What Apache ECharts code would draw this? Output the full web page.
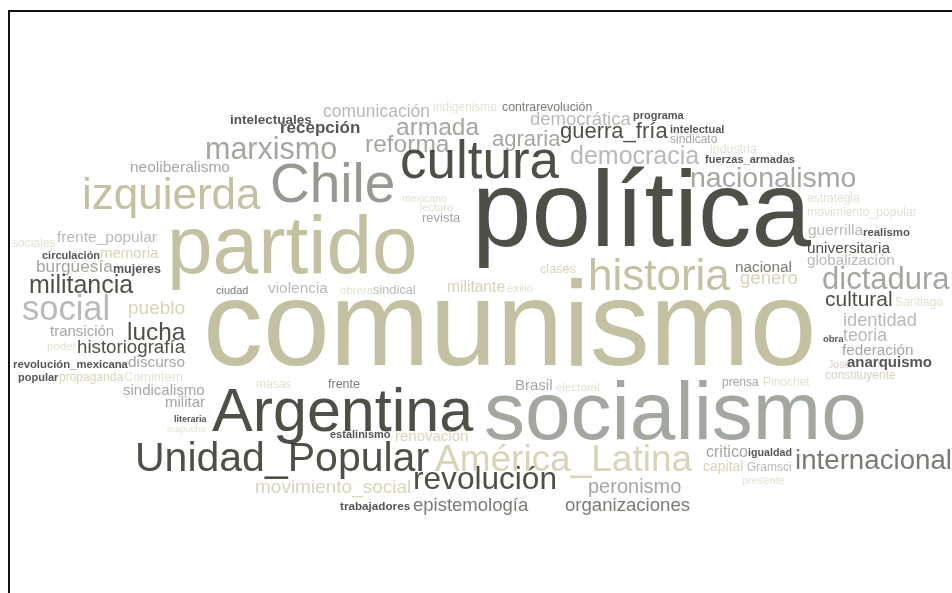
<!DOCTYPE html>
<html><head><meta charset="utf-8">
<script src="https://cdn.jsdelivr.net/npm/echarts/dist/echarts.min.js"></script>
<style>html,body{margin:0;padding:0;background:#fff}#c{width:952px;height:593px}</style>
</head><body><div id="c"></div><script>
// Word cloud: words, weights (relative frequency), tone group, and layout anchor (left, baseline)
const words = ['intelectuales','comunicación','indigenismo','contrarevolución','recepción','armada','democrática','programa','intelectual','sindicato',
'guerra_fría','agraria','reforma','marxismo','industria','fuerzas_armadas','democracia','neoliberalismo','Chile','cultura',
'izquierda','nacionalismo','política','partido','mexicano','lectura','revista','estrategia','movimiento_popular','guerrilla',
'realismo','universitaria','globalización','nacional','genero','historia','clases','dictadura','cultural','Santiago',
'identidad','obra','teoria','federación','José','anarquismo','constituyente','prensa','Pinochet','socialismo',
'critico','igualdad','internacional','capital','Gramsci','presente','peronismo','organizaciones','revolución','epistemología',
'trabajadores','movimiento_social','Unidad_Popular','América_Latina','Argentina','renovación','estalinismo','Brasil','electoral','masas',
'frente','sindicalismo','militar','literaria','mapuche','sociales','frente_popular','circulación','memoria','burguesía',
'mujeres','militancia','social','pueblo','transición','lucha','poder','historiografía','revolución_mexicana','discurso',
'popular','propaganda','Comintern','comunismo','ciudad','violencia','obrera','sindical','militante','exilio'];
const weights = [13.5,17.5,12,12.3,17,24.5,18.5,11,11,12,
22,22,24.5,30.5,12.4,11,25,15.5,55,53,
44,28.5,107,82,10.5,11,13,12,12.2,15.5,
11.4,15.4,15.2,15.3,18.6,44,12.7,31,21,12.2,
18.2,9.5,17.6,15.3,10.5,15,12,12,12,82,
16,10.7,27.7,14,12,11,20,18.6,31.6,18.5,
11.7,19,41,37,61,15,11,15,11.6,12,
12.5,15,15,9,9.5,12,15.5,11,15,17.3,
12.5,25,34.5,19,15,24.4,11.5,18.7,11.3,15.3,
11,12,12.8,120,11,15.4,11.5,12.8,15.6,11.5];
const tones = [6,3,5,7,6,2,3,6,6,2,
0,2,2,2,5,6,3,2,8,0,
1,2,0,1,5,5,2,5,5,3,
6,0,3,7,4,1,4,2,0,5,
3,6,3,2,4,6,4,2,5,2,
2,6,7,4,3,5,2,7,0,7,
6,4,0,4,0,4,6,2,5,5,
7,2,2,6,5,5,3,6,4,2,
6,0,3,4,2,0,5,0,6,2,
6,4,5,1,7,3,5,3,4,5];
const layoutX = [230,323,433,502,280,396,530,633,670,670,
560,492,365,205,710,705,570,130,270,400,
82,690,472,167,402,420,422,807,807,808,
863,807,807,735,740,588,540,822,825,895,
843,823,843,842,828,847,825,722,763,484,
706,748,795,703,747,742,588,565,413,413,
340,255,135,435,212,395,330,515,556,256,
328,123,165,174,167,12,57,42,100,36,
113,29,22,128,50,127,47,77,13,128,
18,59,124,203,216,268,340,373,447,507];
const layoutY = [124,118,111,111,134,136,126,119,133,143,
139,147,153,160,153,163,165,173,204,180,
210,188,250,276,202,211,222,202,216,236,
236,254,266,273,285,291,273,290,307,306,
327,342,342,356,368,368,379,386,386,442,
458,456,470,471,471,484,494,512,490,512,
510,494,472,472,433,442,438,391,391,388,
388,396,408,422,432,247,243,259,259,273,
273,294,321,315,337,341,350,354,368,368,
381,381,381,369,294,294,294,294,293,292];

const palette = ['#202418','#b4b28a','#8b9188','#a6a9a4','#cdc9a9','#dcd9c6','#2a2a2a','#565a51','#7a8076'];
const font = 'Liberation Sans, Arial, Helvetica, sans-serif';

// labels are drawn with a 'middle' text baseline: lift the anchor from baseline to mid-line
const data = words.map((w, i) => {
  const fs = weights[i];
  return {
    name: w,
    value: [layoutX[i], layoutY[i] - 0.31 * fs],
    label: {
      fontSize: fs,
      color: palette[tones[i]],
      fontWeight: tones[i] === 6 ? 'bold' : 'normal'
    }
  };
});

const chart = echarts.init(document.getElementById('c'), null, {renderer: 'canvas'});
chart.setOption({
  animation: false,
  backgroundColor: '#ffffff',
  grid: {left: 0, right: 0, top: 0, bottom: 0},
  xAxis: {type: 'value', min: 0, max: 952, show: false},
  yAxis: {type: 'value', min: 0, max: 593, inverse: true, show: false},
  graphic: [{
    type: 'polyline',
    shape: {points: [[9, 593], [9, 11], [952, 11]]},
    style: {stroke: '#111', lineWidth: 2, fill: null},
    silent: true
  }],
  series: [{
    type: 'scatter',
    symbolSize: 0,
    silent: true,
    itemStyle: {color: 'rgba(0,0,0,0)'},
    label: {
      show: true,
      position: 'right',
      distance: 0,
      formatter: p => p.name,
      fontFamily: font
    },
    labelLayout: {hideOverlap: false},
    data: data
  }]
});
</script></body></html>
